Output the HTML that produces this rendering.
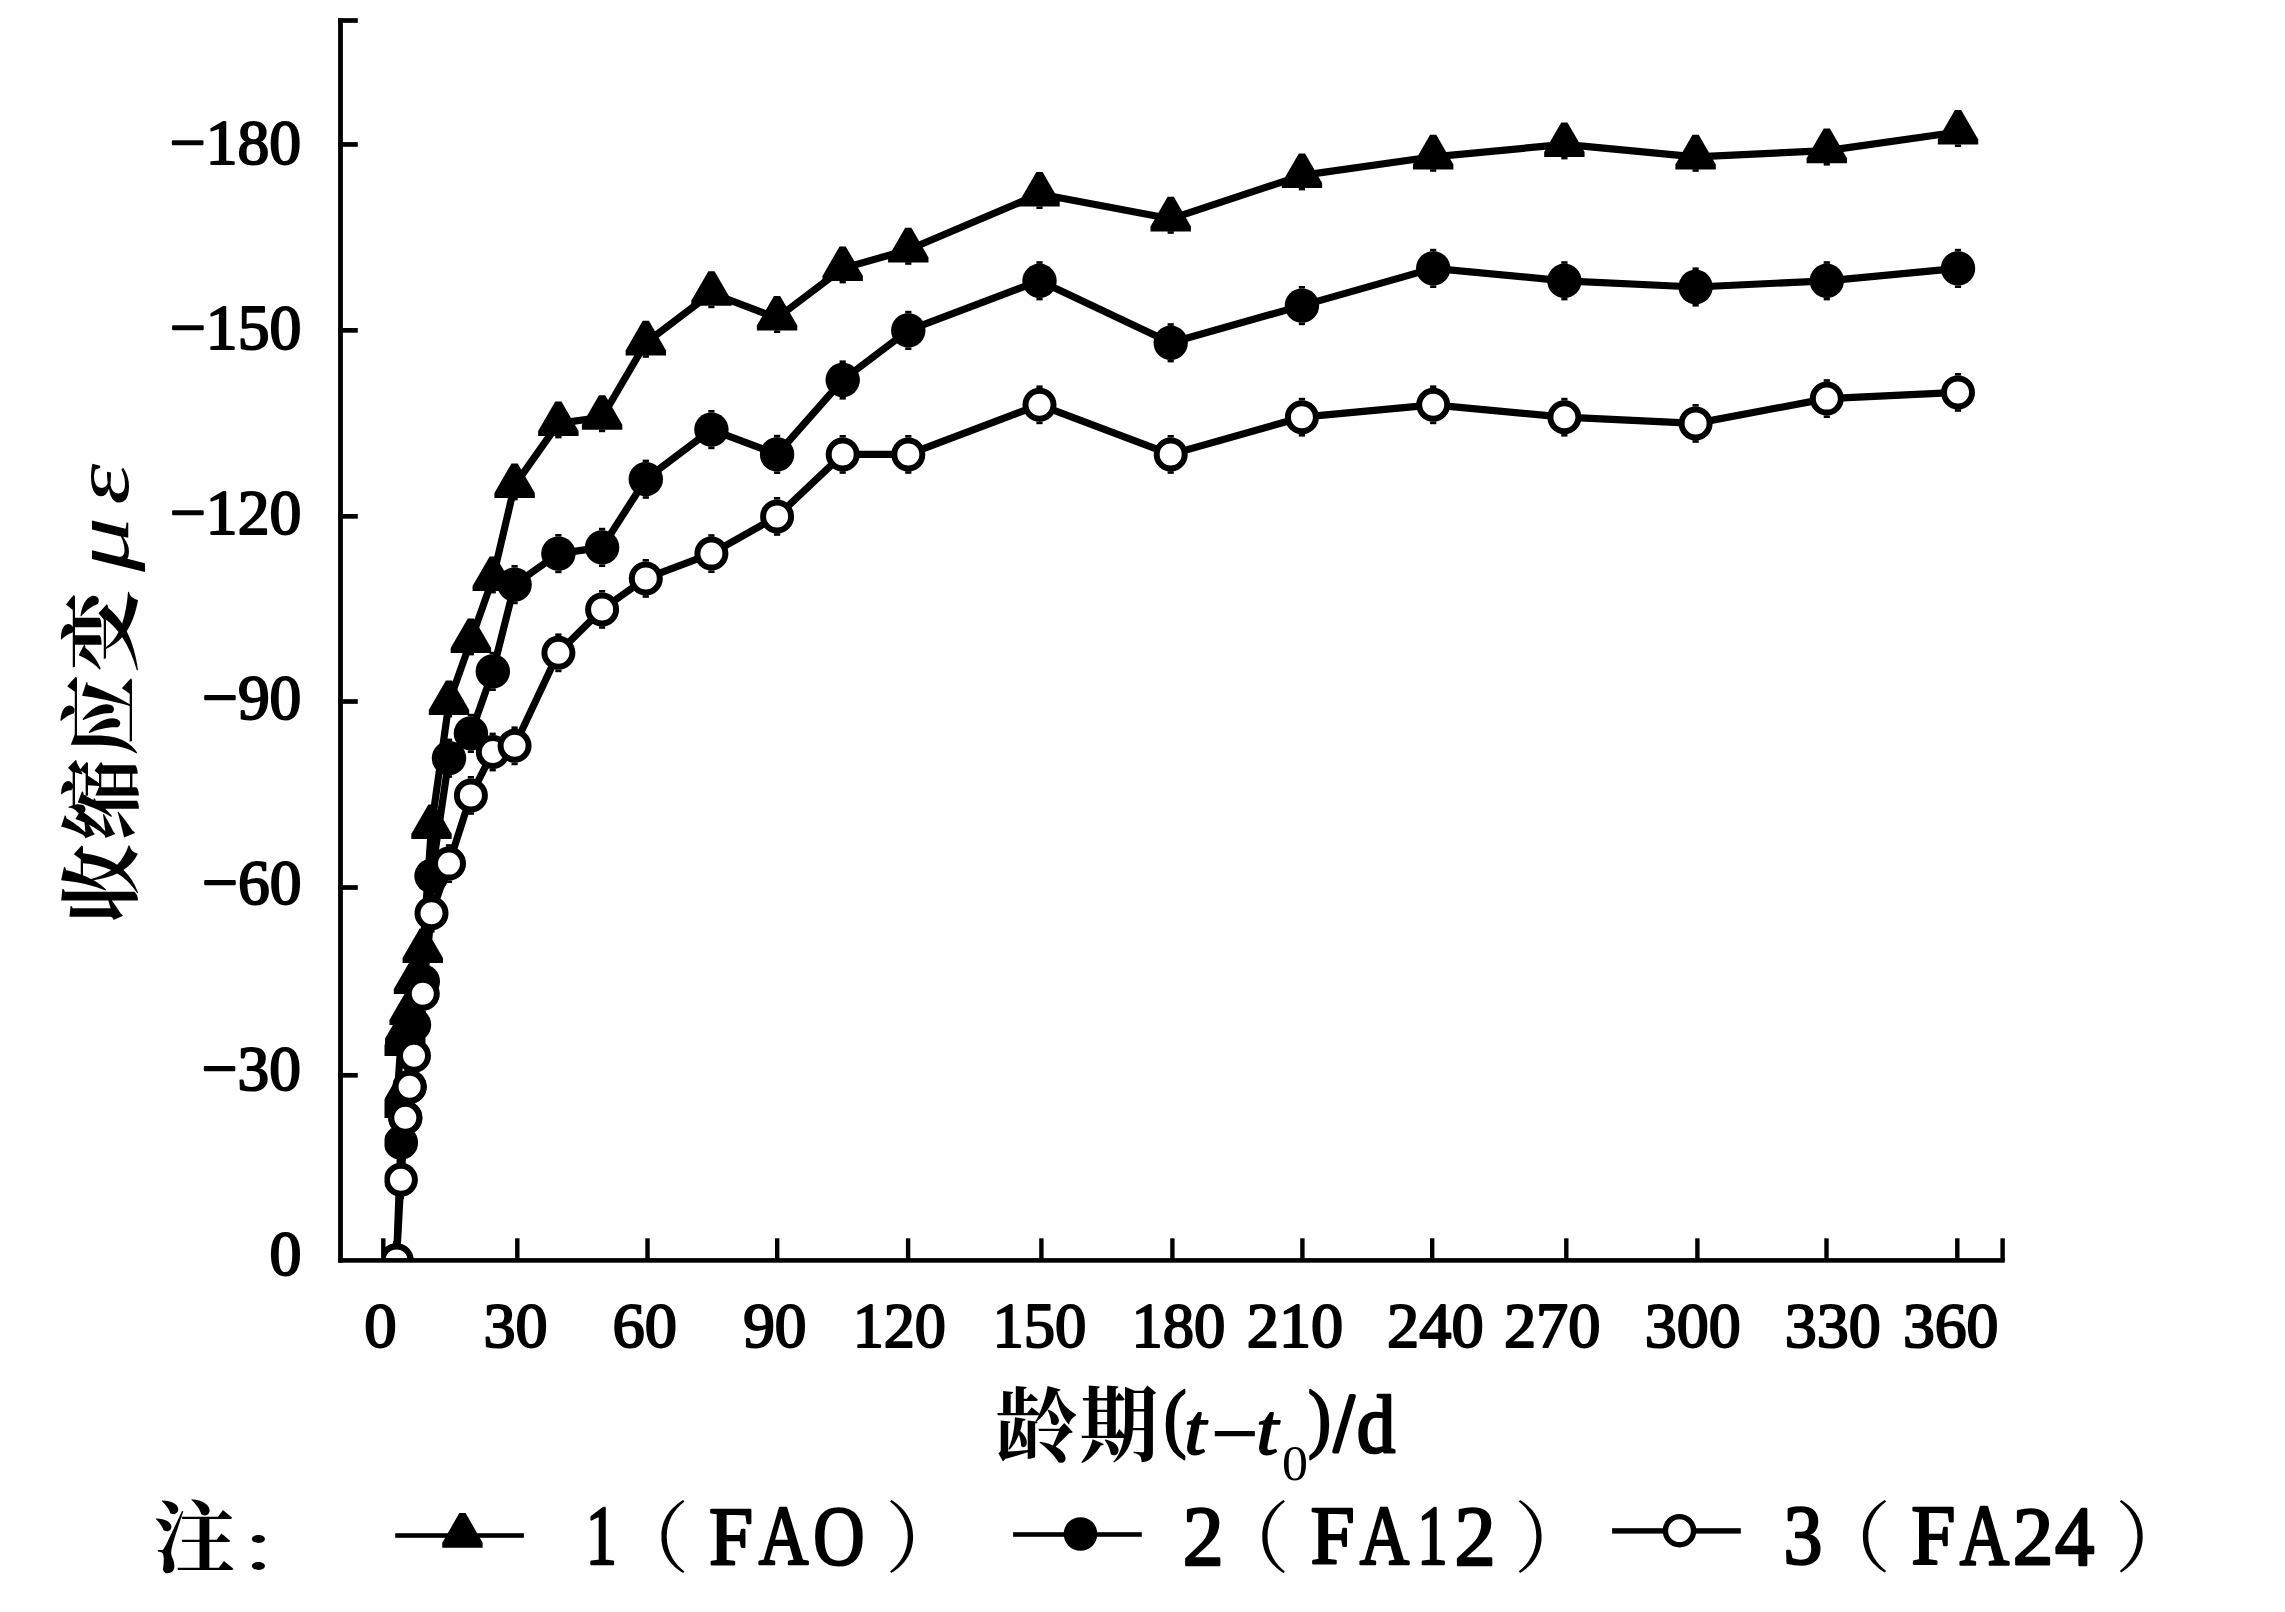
<!DOCTYPE html>
<html lang="zh"><head><meta charset="utf-8"><title>收缩应变-龄期曲线</title>
<style>html,body{margin:0;padding:0;background:#fff;overflow:hidden}svg{display:block}text{fill:#000}</style></head><body>
<svg width="2285" height="1612" viewBox="0 0 2285 1612">
<rect x="0" y="0" width="2285" height="1612" fill="#fff"/>
<defs><clipPath id="pc"><rect x="384.5" y="0" width="1700" height="1260.4"/></clipPath></defs>
<g clip-path="url(#pc)">
<polyline fill="none" stroke="#000" stroke-width="7.2" stroke-linejoin="round" points="396.5,1105.4 400.9,1043.4 405.3,1031.0 409.6,1012.4 414.0,981.4 422.8,950.4 431.5,826.4 449.0,702.4 470.9,640.4 492.8,578.4 514.6,485.4 558.4,423.4 602.1,417.2 645.8,342.8 711.4,293.2 777.1,318.0 842.7,268.4 908.3,249.8 1039.5,194.0 1170.7,218.8 1301.9,175.4 1433.2,156.8 1564.4,144.4 1695.6,156.8 1826.8,150.6 1958.0,132.0"/>
<polyline fill="none" stroke="#000" stroke-width="7.2" stroke-linejoin="round" points="396.5,1260.4 400.9,1142.6 405.3,1117.8 409.6,1086.8 414.0,1024.8 422.8,981.4 431.5,876.0 449.0,758.2 470.9,733.4 492.8,671.4 514.6,584.6 558.4,553.6 602.1,547.4 645.8,479.2 711.4,429.6 777.1,454.4 842.7,380.0 908.3,330.4 1039.5,280.8 1170.7,342.8 1301.9,305.6 1433.2,268.4 1564.4,280.8 1695.6,287.0 1826.8,280.8 1958.0,268.4"/>
<polyline fill="none" stroke="#000" stroke-width="7.2" stroke-linejoin="round" points="396.5,1260.4 400.9,1179.8 405.3,1117.8 409.6,1086.8 414.0,1055.8 422.8,993.8 431.5,913.2 449.0,863.6 470.9,795.4 492.8,752.0 514.6,745.8 558.4,652.8 602.1,609.4 645.8,578.4 711.4,553.6 777.1,516.4 842.7,454.4 908.3,454.4 1039.5,404.8 1170.7,454.4 1301.9,417.2 1433.2,404.8 1564.4,417.2 1695.6,423.4 1826.8,398.6 1958.0,392.4"/>
<polygon points="393.42,1083.40 399.62,1083.40 416.72,1113.00 416.72,1118.00 376.32,1118.00 376.32,1113.00" fill="#000"/>
<rect x="393.4" y="1117.8" width="6.2" height="2.6"/>
<polygon points="397.80,1021.40 404.00,1021.40 421.10,1051.00 421.10,1056.00 380.70,1056.00 380.70,1051.00" fill="#000"/>
<rect x="397.8" y="1055.8" width="6.2" height="2.6"/>
<polygon points="402.17,1009.00 408.37,1009.00 425.47,1038.60 425.47,1043.60 385.07,1043.60 385.07,1038.60" fill="#000"/>
<rect x="402.2" y="1043.4" width="6.2" height="2.6"/>
<polygon points="406.54,990.40 412.74,990.40 429.84,1020.00 429.84,1025.00 389.44,1025.00 389.44,1020.00" fill="#000"/>
<rect x="406.5" y="1024.8" width="6.2" height="2.6"/>
<polygon points="410.92,959.40 417.12,959.40 434.22,989.00 434.22,994.00 393.82,994.00 393.82,989.00" fill="#000"/>
<rect x="410.9" y="993.8" width="6.2" height="2.6"/>
<polygon points="419.67,928.40 425.87,928.40 442.97,958.00 442.97,963.00 402.57,963.00 402.57,958.00" fill="#000"/>
<rect x="419.7" y="962.8" width="6.2" height="2.6"/>
<polygon points="428.41,804.40 434.61,804.40 451.71,834.00 451.71,839.00 411.31,839.00 411.31,834.00" fill="#000"/>
<rect x="428.4" y="838.8" width="6.2" height="2.6"/>
<polygon points="445.91,680.40 452.11,680.40 469.21,710.00 469.21,715.00 428.81,715.00 428.81,710.00" fill="#000"/>
<rect x="445.9" y="714.8" width="6.2" height="2.6"/>
<polygon points="467.78,618.40 473.98,618.40 491.08,648.00 491.08,653.00 450.68,653.00 450.68,648.00" fill="#000"/>
<rect x="467.8" y="652.8" width="6.2" height="2.6"/>
<polygon points="489.65,556.40 495.85,556.40 512.95,586.00 512.95,591.00 472.55,591.00 472.55,586.00" fill="#000"/>
<rect x="489.6" y="590.8" width="6.2" height="2.6"/>
<polygon points="511.52,463.40 517.72,463.40 534.82,493.00 534.82,498.00 494.42,498.00 494.42,493.00" fill="#000"/>
<rect x="511.5" y="497.8" width="6.2" height="2.6"/>
<polygon points="555.26,401.40 561.46,401.40 578.56,431.00 578.56,436.00 538.16,436.00 538.16,431.00" fill="#000"/>
<rect x="555.3" y="435.8" width="6.2" height="2.6"/>
<polygon points="599.00,395.20 605.20,395.20 622.30,424.80 622.30,429.80 581.90,429.80 581.90,424.80" fill="#000"/>
<rect x="599.0" y="429.6" width="6.2" height="2.6"/>
<polygon points="642.74,320.80 648.94,320.80 666.04,350.40 666.04,355.40 625.64,355.40 625.64,350.40" fill="#000"/>
<rect x="642.7" y="355.2" width="6.2" height="2.6"/>
<polygon points="708.35,271.20 714.55,271.20 731.65,300.80 731.65,305.80 691.25,305.80 691.25,300.80" fill="#000"/>
<rect x="708.3" y="305.6" width="6.2" height="2.6"/>
<polygon points="773.96,296.00 780.16,296.00 797.26,325.60 797.26,330.60 756.86,330.60 756.86,325.60" fill="#000"/>
<rect x="774.0" y="330.4" width="6.2" height="2.6"/>
<polygon points="839.57,246.40 845.77,246.40 862.87,276.00 862.87,281.00 822.47,281.00 822.47,276.00" fill="#000"/>
<rect x="839.6" y="280.8" width="6.2" height="2.6"/>
<polygon points="905.18,227.80 911.38,227.80 928.48,257.40 928.48,262.40 888.08,262.40 888.08,257.40" fill="#000"/>
<rect x="905.2" y="262.2" width="6.2" height="2.6"/>
<polygon points="1036.40,172.00 1042.60,172.00 1059.70,201.60 1059.70,206.60 1019.30,206.60 1019.30,201.60" fill="#000"/>
<rect x="1036.4" y="206.4" width="6.2" height="2.6"/>
<polygon points="1167.62,196.80 1173.82,196.80 1190.92,226.40 1190.92,231.40 1150.52,231.40 1150.52,226.40" fill="#000"/>
<rect x="1167.6" y="231.2" width="6.2" height="2.6"/>
<polygon points="1298.84,153.40 1305.04,153.40 1322.14,183.00 1322.14,188.00 1281.74,188.00 1281.74,183.00" fill="#000"/>
<rect x="1298.8" y="187.8" width="6.2" height="2.6"/>
<polygon points="1430.06,134.80 1436.26,134.80 1453.36,164.40 1453.36,169.40 1412.96,169.40 1412.96,164.40" fill="#000"/>
<rect x="1430.1" y="169.2" width="6.2" height="2.6"/>
<polygon points="1561.28,122.40 1567.48,122.40 1584.58,152.00 1584.58,157.00 1544.18,157.00 1544.18,152.00" fill="#000"/>
<rect x="1561.3" y="156.8" width="6.2" height="2.6"/>
<polygon points="1692.50,134.80 1698.70,134.80 1715.80,164.40 1715.80,169.40 1675.40,169.40 1675.40,164.40" fill="#000"/>
<rect x="1692.5" y="169.2" width="6.2" height="2.6"/>
<polygon points="1823.72,128.60 1829.92,128.60 1847.02,158.20 1847.02,163.20 1806.62,163.20 1806.62,158.20" fill="#000"/>
<rect x="1823.7" y="163.0" width="6.2" height="2.6"/>
<polygon points="1954.94,110.00 1961.14,110.00 1978.24,139.60 1978.24,144.60 1937.84,144.60 1937.84,139.60" fill="#000"/>
<rect x="1954.9" y="144.4" width="6.2" height="2.6"/>
<circle cx="396.5" cy="1260.4" r="17.2" fill="#000"/>
<rect x="393.4" y="1240.8" width="6.2" height="2.6"/>
<rect x="393.4" y="1277.4" width="6.2" height="2.6"/>
<circle cx="400.9" cy="1142.6" r="17.2" fill="#000"/>
<rect x="397.8" y="1123.0" width="6.2" height="2.6"/>
<rect x="397.8" y="1159.6" width="6.2" height="2.6"/>
<circle cx="405.3" cy="1117.8" r="17.2" fill="#000"/>
<rect x="402.2" y="1098.2" width="6.2" height="2.6"/>
<rect x="402.2" y="1134.8" width="6.2" height="2.6"/>
<circle cx="409.6" cy="1086.8" r="17.2" fill="#000"/>
<rect x="406.5" y="1067.2" width="6.2" height="2.6"/>
<rect x="406.5" y="1103.8" width="6.2" height="2.6"/>
<circle cx="414.0" cy="1024.8" r="17.2" fill="#000"/>
<rect x="410.9" y="1005.2" width="6.2" height="2.6"/>
<rect x="410.9" y="1041.8" width="6.2" height="2.6"/>
<circle cx="422.8" cy="981.4" r="17.2" fill="#000"/>
<rect x="419.7" y="961.8" width="6.2" height="2.6"/>
<rect x="419.7" y="998.4" width="6.2" height="2.6"/>
<circle cx="431.5" cy="876.0" r="17.2" fill="#000"/>
<rect x="428.4" y="856.4" width="6.2" height="2.6"/>
<rect x="428.4" y="893.0" width="6.2" height="2.6"/>
<circle cx="449.0" cy="758.2" r="17.2" fill="#000"/>
<rect x="445.9" y="738.6" width="6.2" height="2.6"/>
<rect x="445.9" y="775.2" width="6.2" height="2.6"/>
<circle cx="470.9" cy="733.4" r="17.2" fill="#000"/>
<rect x="467.8" y="713.8" width="6.2" height="2.6"/>
<rect x="467.8" y="750.4" width="6.2" height="2.6"/>
<circle cx="492.8" cy="671.4" r="17.2" fill="#000"/>
<rect x="489.6" y="651.8" width="6.2" height="2.6"/>
<rect x="489.6" y="688.4" width="6.2" height="2.6"/>
<circle cx="514.6" cy="584.6" r="17.2" fill="#000"/>
<rect x="511.5" y="565.0" width="6.2" height="2.6"/>
<rect x="511.5" y="601.6" width="6.2" height="2.6"/>
<circle cx="558.4" cy="553.6" r="17.2" fill="#000"/>
<rect x="555.3" y="534.0" width="6.2" height="2.6"/>
<rect x="555.3" y="570.6" width="6.2" height="2.6"/>
<circle cx="602.1" cy="547.4" r="17.2" fill="#000"/>
<rect x="599.0" y="527.8" width="6.2" height="2.6"/>
<rect x="599.0" y="564.4" width="6.2" height="2.6"/>
<circle cx="645.8" cy="479.2" r="17.2" fill="#000"/>
<rect x="642.7" y="459.6" width="6.2" height="2.6"/>
<rect x="642.7" y="496.2" width="6.2" height="2.6"/>
<circle cx="711.4" cy="429.6" r="17.2" fill="#000"/>
<rect x="708.3" y="410.0" width="6.2" height="2.6"/>
<rect x="708.3" y="446.6" width="6.2" height="2.6"/>
<circle cx="777.1" cy="454.4" r="17.2" fill="#000"/>
<rect x="774.0" y="434.8" width="6.2" height="2.6"/>
<rect x="774.0" y="471.4" width="6.2" height="2.6"/>
<circle cx="842.7" cy="380.0" r="17.2" fill="#000"/>
<rect x="839.6" y="360.4" width="6.2" height="2.6"/>
<rect x="839.6" y="397.0" width="6.2" height="2.6"/>
<circle cx="908.3" cy="330.4" r="17.2" fill="#000"/>
<rect x="905.2" y="310.8" width="6.2" height="2.6"/>
<rect x="905.2" y="347.4" width="6.2" height="2.6"/>
<circle cx="1039.5" cy="280.8" r="17.2" fill="#000"/>
<rect x="1036.4" y="261.2" width="6.2" height="2.6"/>
<rect x="1036.4" y="297.8" width="6.2" height="2.6"/>
<circle cx="1170.7" cy="342.8" r="17.2" fill="#000"/>
<rect x="1167.6" y="323.2" width="6.2" height="2.6"/>
<rect x="1167.6" y="359.8" width="6.2" height="2.6"/>
<circle cx="1301.9" cy="305.6" r="17.2" fill="#000"/>
<rect x="1298.8" y="286.0" width="6.2" height="2.6"/>
<rect x="1298.8" y="322.6" width="6.2" height="2.6"/>
<circle cx="1433.2" cy="268.4" r="17.2" fill="#000"/>
<rect x="1430.1" y="248.8" width="6.2" height="2.6"/>
<rect x="1430.1" y="285.4" width="6.2" height="2.6"/>
<circle cx="1564.4" cy="280.8" r="17.2" fill="#000"/>
<rect x="1561.3" y="261.2" width="6.2" height="2.6"/>
<rect x="1561.3" y="297.8" width="6.2" height="2.6"/>
<circle cx="1695.6" cy="287.0" r="17.2" fill="#000"/>
<rect x="1692.5" y="267.4" width="6.2" height="2.6"/>
<rect x="1692.5" y="304.0" width="6.2" height="2.6"/>
<circle cx="1826.8" cy="280.8" r="17.2" fill="#000"/>
<rect x="1823.7" y="261.2" width="6.2" height="2.6"/>
<rect x="1823.7" y="297.8" width="6.2" height="2.6"/>
<circle cx="1958.0" cy="268.4" r="17.2" fill="#000"/>
<rect x="1954.9" y="248.8" width="6.2" height="2.6"/>
<rect x="1954.9" y="285.4" width="6.2" height="2.6"/>
<rect x="393.4" y="1241.0" width="6.2" height="2.6"/>
<rect x="393.4" y="1277.2" width="6.2" height="2.6"/>
<circle cx="396.5" cy="1260.4" r="14.0" fill="#fff" stroke="#000" stroke-width="6.0"/>
<rect x="397.8" y="1160.4" width="6.2" height="2.6"/>
<rect x="397.8" y="1196.6" width="6.2" height="2.6"/>
<circle cx="400.9" cy="1179.8" r="14.0" fill="#fff" stroke="#000" stroke-width="6.0"/>
<rect x="402.2" y="1098.4" width="6.2" height="2.6"/>
<rect x="402.2" y="1134.6" width="6.2" height="2.6"/>
<circle cx="405.3" cy="1117.8" r="14.0" fill="#fff" stroke="#000" stroke-width="6.0"/>
<rect x="406.5" y="1067.4" width="6.2" height="2.6"/>
<rect x="406.5" y="1103.6" width="6.2" height="2.6"/>
<circle cx="409.6" cy="1086.8" r="14.0" fill="#fff" stroke="#000" stroke-width="6.0"/>
<rect x="410.9" y="1036.4" width="6.2" height="2.6"/>
<rect x="410.9" y="1072.6" width="6.2" height="2.6"/>
<circle cx="414.0" cy="1055.8" r="14.0" fill="#fff" stroke="#000" stroke-width="6.0"/>
<rect x="419.7" y="974.4" width="6.2" height="2.6"/>
<rect x="419.7" y="1010.6" width="6.2" height="2.6"/>
<circle cx="422.8" cy="993.8" r="14.0" fill="#fff" stroke="#000" stroke-width="6.0"/>
<rect x="428.4" y="893.8" width="6.2" height="2.6"/>
<rect x="428.4" y="930.0" width="6.2" height="2.6"/>
<circle cx="431.5" cy="913.2" r="14.0" fill="#fff" stroke="#000" stroke-width="6.0"/>
<rect x="445.9" y="844.2" width="6.2" height="2.6"/>
<rect x="445.9" y="880.4" width="6.2" height="2.6"/>
<circle cx="449.0" cy="863.6" r="14.0" fill="#fff" stroke="#000" stroke-width="6.0"/>
<rect x="467.8" y="776.0" width="6.2" height="2.6"/>
<rect x="467.8" y="812.2" width="6.2" height="2.6"/>
<circle cx="470.9" cy="795.4" r="14.0" fill="#fff" stroke="#000" stroke-width="6.0"/>
<rect x="489.6" y="732.6" width="6.2" height="2.6"/>
<rect x="489.6" y="768.8" width="6.2" height="2.6"/>
<circle cx="492.8" cy="752.0" r="14.0" fill="#fff" stroke="#000" stroke-width="6.0"/>
<rect x="511.5" y="726.4" width="6.2" height="2.6"/>
<rect x="511.5" y="762.6" width="6.2" height="2.6"/>
<circle cx="514.6" cy="745.8" r="14.0" fill="#fff" stroke="#000" stroke-width="6.0"/>
<rect x="555.3" y="633.4" width="6.2" height="2.6"/>
<rect x="555.3" y="669.6" width="6.2" height="2.6"/>
<circle cx="558.4" cy="652.8" r="14.0" fill="#fff" stroke="#000" stroke-width="6.0"/>
<rect x="599.0" y="590.0" width="6.2" height="2.6"/>
<rect x="599.0" y="626.2" width="6.2" height="2.6"/>
<circle cx="602.1" cy="609.4" r="14.0" fill="#fff" stroke="#000" stroke-width="6.0"/>
<rect x="642.7" y="559.0" width="6.2" height="2.6"/>
<rect x="642.7" y="595.2" width="6.2" height="2.6"/>
<circle cx="645.8" cy="578.4" r="14.0" fill="#fff" stroke="#000" stroke-width="6.0"/>
<rect x="708.3" y="534.2" width="6.2" height="2.6"/>
<rect x="708.3" y="570.4" width="6.2" height="2.6"/>
<circle cx="711.4" cy="553.6" r="14.0" fill="#fff" stroke="#000" stroke-width="6.0"/>
<rect x="774.0" y="497.0" width="6.2" height="2.6"/>
<rect x="774.0" y="533.2" width="6.2" height="2.6"/>
<circle cx="777.1" cy="516.4" r="14.0" fill="#fff" stroke="#000" stroke-width="6.0"/>
<rect x="839.6" y="435.0" width="6.2" height="2.6"/>
<rect x="839.6" y="471.2" width="6.2" height="2.6"/>
<circle cx="842.7" cy="454.4" r="14.0" fill="#fff" stroke="#000" stroke-width="6.0"/>
<rect x="905.2" y="435.0" width="6.2" height="2.6"/>
<rect x="905.2" y="471.2" width="6.2" height="2.6"/>
<circle cx="908.3" cy="454.4" r="14.0" fill="#fff" stroke="#000" stroke-width="6.0"/>
<rect x="1036.4" y="385.4" width="6.2" height="2.6"/>
<rect x="1036.4" y="421.6" width="6.2" height="2.6"/>
<circle cx="1039.5" cy="404.8" r="14.0" fill="#fff" stroke="#000" stroke-width="6.0"/>
<rect x="1167.6" y="435.0" width="6.2" height="2.6"/>
<rect x="1167.6" y="471.2" width="6.2" height="2.6"/>
<circle cx="1170.7" cy="454.4" r="14.0" fill="#fff" stroke="#000" stroke-width="6.0"/>
<rect x="1298.8" y="397.8" width="6.2" height="2.6"/>
<rect x="1298.8" y="434.0" width="6.2" height="2.6"/>
<circle cx="1301.9" cy="417.2" r="14.0" fill="#fff" stroke="#000" stroke-width="6.0"/>
<rect x="1430.1" y="385.4" width="6.2" height="2.6"/>
<rect x="1430.1" y="421.6" width="6.2" height="2.6"/>
<circle cx="1433.2" cy="404.8" r="14.0" fill="#fff" stroke="#000" stroke-width="6.0"/>
<rect x="1561.3" y="397.8" width="6.2" height="2.6"/>
<rect x="1561.3" y="434.0" width="6.2" height="2.6"/>
<circle cx="1564.4" cy="417.2" r="14.0" fill="#fff" stroke="#000" stroke-width="6.0"/>
<rect x="1692.5" y="404.0" width="6.2" height="2.6"/>
<rect x="1692.5" y="440.2" width="6.2" height="2.6"/>
<circle cx="1695.6" cy="423.4" r="14.0" fill="#fff" stroke="#000" stroke-width="6.0"/>
<rect x="1823.7" y="379.2" width="6.2" height="2.6"/>
<rect x="1823.7" y="415.4" width="6.2" height="2.6"/>
<circle cx="1826.8" cy="398.6" r="14.0" fill="#fff" stroke="#000" stroke-width="6.0"/>
<rect x="1954.9" y="373.0" width="6.2" height="2.6"/>
<rect x="1954.9" y="409.2" width="6.2" height="2.6"/>
<circle cx="1958.0" cy="392.4" r="14.0" fill="#fff" stroke="#000" stroke-width="6.0"/>
</g>
<g fill="#000">
<rect x="338.1" y="18.2" width="4.8" height="1244.5"/>
<rect x="338.1" y="1258.1" width="1666.7" height="4.6"/>
<rect x="338.1" y="18.15" width="19.7" height="4.7"/>
<rect x="338.1" y="142.10" width="19.7" height="4.7"/>
<rect x="338.1" y="328.00" width="19.7" height="4.7"/>
<rect x="338.1" y="514.00" width="19.7" height="4.7"/>
<rect x="338.1" y="699.15" width="19.7" height="4.7"/>
<rect x="338.1" y="885.15" width="19.7" height="4.7"/>
<rect x="338.1" y="1072.95" width="19.7" height="4.7"/>
<rect x="381.10" y="1238.3" width="4.4" height="22"/>
<rect x="515.10" y="1238.3" width="4.4" height="22"/>
<rect x="645.30" y="1238.3" width="4.4" height="22"/>
<rect x="775.00" y="1238.3" width="4.4" height="22"/>
<rect x="905.90" y="1238.3" width="4.4" height="22"/>
<rect x="1039.20" y="1238.3" width="4.4" height="22"/>
<rect x="1170.20" y="1238.3" width="4.4" height="22"/>
<rect x="1300.20" y="1238.3" width="4.4" height="22"/>
<rect x="1430.00" y="1238.3" width="4.4" height="22"/>
<rect x="1564.10" y="1238.3" width="4.4" height="22"/>
<rect x="1695.20" y="1238.3" width="4.4" height="22"/>
<rect x="1824.30" y="1238.3" width="4.4" height="22"/>
<rect x="1955.10" y="1238.3" width="4.4" height="22"/>
<rect x="2000.40" y="1238.3" width="4.4" height="22"/>
</g>
<rect x="395.2" y="1533.2" width="128.7" height="4.6" fill="#000"/>
<polygon points="459.35,1513.10 465.55,1513.10 482.65,1542.70 482.65,1547.70 442.25,1547.70 442.25,1542.70" fill="#000"/>
<rect x="1013.1" y="1532.2" width="128.7" height="4.6" fill="#000"/>
<circle cx="1080.5" cy="1534" r="16.8" fill="#000"/>
<rect x="1612.1" y="1528.2" width="128.7" height="5.4" fill="#000"/>
<circle cx="1679.5" cy="1530.7" r="14.1" fill="#fff" stroke="#000" stroke-width="5.4"/>
<text transform="matrix(0.6365 0 0 0.6342 169.74 163.60)" font-family="&quot;Liberation Serif&quot;, serif" font-weight="normal" font-size="100" stroke="#000" stroke-width="3.2" stroke-linejoin="round">−180</text>
<text transform="matrix(0.6370 0 0 0.6342 169.89 348.60)" font-family="&quot;Liberation Serif&quot;, serif" font-weight="normal" font-size="100" stroke="#000" stroke-width="3.2" stroke-linejoin="round">−150</text>
<text transform="matrix(0.6370 0 0 0.6342 169.89 533.60)" font-family="&quot;Liberation Serif&quot;, serif" font-weight="normal" font-size="100" stroke="#000" stroke-width="3.2" stroke-linejoin="round">−120</text>
<text transform="matrix(0.6347 0 0 0.6386 202.10 718.59)" font-family="&quot;Liberation Serif&quot;, serif" font-weight="normal" font-size="100" stroke="#000" stroke-width="3.2" stroke-linejoin="round">−90</text>
<text transform="matrix(0.6347 0 0 0.6385 202.10 903.58)" font-family="&quot;Liberation Serif&quot;, serif" font-weight="normal" font-size="100" stroke="#000" stroke-width="3.2" stroke-linejoin="round">−60</text>
<text transform="matrix(0.6340 0 0 0.6372 201.85 1089.50)" font-family="&quot;Liberation Serif&quot;, serif" font-weight="normal" font-size="100" stroke="#000" stroke-width="3.2" stroke-linejoin="round">−30</text>
<text transform="matrix(0.6391 0 0 0.6316 269.52 1274.53)" font-family="&quot;Liberation Serif&quot;, serif" font-weight="normal" font-size="100" stroke="#000" stroke-width="3.2" stroke-linejoin="round">0</text>
<text transform="matrix(0.6478 0 0 0.6373 364.20 1346.70)" font-family="&quot;Liberation Serif&quot;, serif" font-weight="normal" font-size="100" stroke="#000" stroke-width="3.2" stroke-linejoin="round">0</text>
<text transform="matrix(0.6411 0 0 0.6373 483.43 1346.70)" font-family="&quot;Liberation Serif&quot;, serif" font-weight="normal" font-size="100" stroke="#000" stroke-width="3.2" stroke-linejoin="round">30</text>
<text transform="matrix(0.6444 0 0 0.6373 612.49 1346.70)" font-family="&quot;Liberation Serif&quot;, serif" font-weight="normal" font-size="100" stroke="#000" stroke-width="3.2" stroke-linejoin="round">60</text>
<text transform="matrix(0.6331 0 0 0.6373 743.16 1346.70)" font-family="&quot;Liberation Serif&quot;, serif" font-weight="normal" font-size="100" stroke="#000" stroke-width="3.2" stroke-linejoin="round">90</text>
<text transform="matrix(0.6220 0 0 0.6328 852.65 1346.71)" font-family="&quot;Liberation Serif&quot;, serif" font-weight="normal" font-size="100" stroke="#000" stroke-width="3.2" stroke-linejoin="round">120</text>
<text transform="matrix(0.6262 0 0 0.6328 992.42 1346.71)" font-family="&quot;Liberation Serif&quot;, serif" font-weight="normal" font-size="100" stroke="#000" stroke-width="3.2" stroke-linejoin="round">150</text>
<text transform="matrix(0.6262 0 0 0.6327 1131.42 1346.70)" font-family="&quot;Liberation Serif&quot;, serif" font-weight="normal" font-size="100" stroke="#000" stroke-width="3.2" stroke-linejoin="round">180</text>
<text transform="matrix(0.6432 0 0 0.6328 1246.81 1346.71)" font-family="&quot;Liberation Serif&quot;, serif" font-weight="normal" font-size="100" stroke="#000" stroke-width="3.2" stroke-linejoin="round">210</text>
<text transform="matrix(0.6439 0 0 0.6373 1387.04 1346.70)" font-family="&quot;Liberation Serif&quot;, serif" font-weight="normal" font-size="100" stroke="#000" stroke-width="3.2" stroke-linejoin="round">240</text>
<text transform="matrix(0.6439 0 0 0.6373 1503.90 1346.70)" font-family="&quot;Liberation Serif&quot;, serif" font-weight="normal" font-size="100" stroke="#000" stroke-width="3.2" stroke-linejoin="round">270</text>
<text transform="matrix(0.6393 0 0 0.6373 1644.78 1346.70)" font-family="&quot;Liberation Serif&quot;, serif" font-weight="normal" font-size="100" stroke="#000" stroke-width="3.2" stroke-linejoin="round">300</text>
<text transform="matrix(0.6393 0 0 0.6373 1784.73 1346.70)" font-family="&quot;Liberation Serif&quot;, serif" font-weight="normal" font-size="100" stroke="#000" stroke-width="3.2" stroke-linejoin="round">330</text>
<text transform="matrix(0.6372 0 0 0.6373 1902.89 1346.70)" font-family="&quot;Liberation Serif&quot;, serif" font-weight="normal" font-size="100" stroke="#000" stroke-width="3.2" stroke-linejoin="round">360</text>
<text transform="matrix(0.8194 0 0 0.8058 995.56 1454.85)" font-family="&quot;Liberation Serif&quot;, &quot;Noto Serif CJK SC&quot;, serif" font-weight="bold" font-size="100">龄</text>
<text transform="matrix(0.7895 0 0 0.8239 1079.42 1455.21)" font-family="&quot;Liberation Serif&quot;, &quot;Noto Serif CJK SC&quot;, serif" font-weight="bold" font-size="100">期</text>
<text transform="matrix(0.6839 0 0 0.7543 1163.82 1443.20)" font-family="&quot;Liberation Serif&quot;, serif" font-weight="normal" font-size="100" stroke="#000" stroke-width="3.0" stroke-linejoin="round">(</text>
<text transform="matrix(0.7857 0 0 0.7247 1184.24 1454.32)" font-family="&quot;Liberation Serif&quot;, serif" font-weight="normal" font-style="italic" font-size="100" stroke="#000" stroke-width="2.5" stroke-linejoin="round">t</text>
<text transform="matrix(0.8617 0 0 0.7571 1210.29 1458.84)" font-family="&quot;Liberation Serif&quot;, serif" font-weight="bold" font-size="100">−</text>
<text transform="matrix(0.7893 0 0 0.7247 1256.18 1454.31)" font-family="&quot;Liberation Serif&quot;, serif" font-weight="normal" font-style="italic" font-size="100" stroke="#000" stroke-width="2.5" stroke-linejoin="round">t</text>
<text transform="matrix(0.5196 0 0 0.5129 1282.01 1479.77)" font-family="&quot;Liberation Serif&quot;, serif" font-weight="normal" font-size="100">0</text>
<text transform="matrix(0.6943 0 0 0.7543 1308.00 1443.18)" font-family="&quot;Liberation Serif&quot;, serif" font-weight="normal" font-size="100" stroke="#000" stroke-width="3.0" stroke-linejoin="round">)</text>
<text transform="matrix(0.7229 0 0 0.8309 1334.07 1450.43)" font-family="&quot;Liberation Serif&quot;, serif" font-weight="normal" font-size="100" stroke="#000" stroke-width="5.0" stroke-linejoin="round">/</text>
<text transform="matrix(0.7711 0 0 0.8208 1356.82 1452.21)" font-family="&quot;Liberation Serif&quot;, serif" font-weight="normal" font-size="100" stroke="#000" stroke-width="3.2" stroke-linejoin="round">d</text>
<text transform="matrix(0 -0.7837 0.8051 0 129.78 922.45)" font-family="&quot;Liberation Serif&quot;, &quot;Noto Serif CJK SC&quot;, serif" font-weight="bold" font-size="100">收</text>
<text transform="matrix(0 -0.8231 0.8162 0 130.65 840.67)" font-family="&quot;Liberation Serif&quot;, &quot;Noto Serif CJK SC&quot;, serif" font-weight="bold" font-size="100">缩</text>
<text transform="matrix(0 -0.8093 0.7932 0 129.12 755.85)" font-family="&quot;Liberation Serif&quot;, &quot;Noto Serif CJK SC&quot;, serif" font-weight="bold" font-size="100">应</text>
<text transform="matrix(0 -0.8314 0.8027 0 129.94 672.82)" font-family="&quot;Liberation Serif&quot;, &quot;Noto Serif CJK SC&quot;, serif" font-weight="bold" font-size="100">变</text>
<text transform="matrix(0 -1.0977 0.7851 0 128.31 571.99)" font-family="&quot;Liberation Serif&quot;, serif" font-weight="normal" font-style="italic" font-size="100">μ</text>
<text transform="matrix(0 -1.0410 0.7854 0 128.16 504.75)" font-family="&quot;Liberation Serif&quot;, serif" font-weight="normal" font-style="italic" font-size="100">ε</text>
<text transform="matrix(0.8179 0 0 0.7822 153.25 1565.59)" font-family="&quot;Liberation Serif&quot;, &quot;Noto Serif CJK SC&quot;, serif" font-weight="bold" font-size="100">注</text>
<text transform="matrix(1.0537 0 0 0.6604 234.09 1571.58)" font-family="&quot;Liberation Serif&quot;, &quot;Noto Serif CJK SC&quot;, serif" font-weight="normal" font-size="100">：</text>
<text transform="matrix(0.6235 0 0 0.8437 585.64 1563.74)" font-family="&quot;Liberation Serif&quot;, serif" font-weight="normal" font-size="100" stroke="#000" stroke-width="3.0" stroke-linejoin="round">1</text>
<text transform="matrix(0.8054 0 0 0.7802 609.00 1565.68)" font-family="&quot;Liberation Serif&quot;, &quot;Noto Serif CJK SC&quot;, serif" font-weight="normal" font-size="100">（</text>
<text transform="matrix(0.7925 0 0 0.8322 709.11 1563.72)" font-family="&quot;Liberation Serif&quot;, serif" font-weight="normal" font-size="100" stroke="#000" stroke-width="3.0" stroke-linejoin="round">F</text>
<text transform="matrix(0.6878 0 0 0.8541 758.79 1563.90)" font-family="&quot;Liberation Serif&quot;, serif" font-weight="normal" font-size="100" stroke="#000" stroke-width="3.0" stroke-linejoin="round">A</text>
<text transform="matrix(0.7110 0 0 0.8402 813.23 1564.66)" font-family="&quot;Liberation Serif&quot;, serif" font-weight="normal" font-size="100" stroke="#000" stroke-width="3.0" stroke-linejoin="round">O</text>
<text transform="matrix(0.8054 0 0 0.7802 885.02 1565.68)" font-family="&quot;Liberation Serif&quot;, &quot;Noto Serif CJK SC&quot;, serif" font-weight="normal" font-size="100">）</text>
<text transform="matrix(0.8188 0 0 0.8406 1182.63 1564.89)" font-family="&quot;Liberation Serif&quot;, serif" font-weight="normal" font-size="100" stroke="#000" stroke-width="3.0" stroke-linejoin="round">2</text>
<text transform="matrix(0.7914 0 0 0.7791 1210.76 1565.79)" font-family="&quot;Liberation Serif&quot;, &quot;Noto Serif CJK SC&quot;, serif" font-weight="normal" font-size="100">（</text>
<text transform="matrix(0.7944 0 0 0.8308 1310.51 1563.37)" font-family="&quot;Liberation Serif&quot;, serif" font-weight="normal" font-size="100" stroke="#000" stroke-width="3.0" stroke-linejoin="round">F</text>
<text transform="matrix(0.6851 0 0 0.8483 1359.79 1563.70)" font-family="&quot;Liberation Serif&quot;, serif" font-weight="normal" font-size="100" stroke="#000" stroke-width="3.0" stroke-linejoin="round">A</text>
<text transform="matrix(0.6079 0 0 0.8365 1417.31 1563.55)" font-family="&quot;Liberation Serif&quot;, serif" font-weight="normal" font-size="100" stroke="#000" stroke-width="3.0" stroke-linejoin="round">1</text>
<text transform="matrix(0.8235 0 0 0.8406 1454.42 1564.89)" font-family="&quot;Liberation Serif&quot;, serif" font-weight="normal" font-size="100" stroke="#000" stroke-width="3.0" stroke-linejoin="round">2</text>
<text transform="matrix(0.7984 0 0 0.7791 1513.76 1565.79)" font-family="&quot;Liberation Serif&quot;, &quot;Noto Serif CJK SC&quot;, serif" font-weight="normal" font-size="100">）</text>
<text transform="matrix(0.7778 0 0 0.8564 1783.47 1564.33)" font-family="&quot;Liberation Serif&quot;, serif" font-weight="normal" font-size="100" stroke="#000" stroke-width="3.0" stroke-linejoin="round">3</text>
<text transform="matrix(0.8125 0 0 0.7738 1809.89 1566.43)" font-family="&quot;Liberation Serif&quot;, &quot;Noto Serif CJK SC&quot;, serif" font-weight="normal" font-size="100">（</text>
<text transform="matrix(0.7944 0 0 0.8439 1911.31 1564.14)" font-family="&quot;Liberation Serif&quot;, serif" font-weight="normal" font-size="100" stroke="#000" stroke-width="3.0" stroke-linejoin="round">F</text>
<text transform="matrix(0.6851 0 0 0.8571 1959.79 1564.44)" font-family="&quot;Liberation Serif&quot;, serif" font-weight="normal" font-size="100" stroke="#000" stroke-width="3.0" stroke-linejoin="round">A</text>
<text transform="matrix(0.8119 0 0 0.8348 2012.81 1563.99)" font-family="&quot;Liberation Serif&quot;, serif" font-weight="normal" font-size="100" stroke="#000" stroke-width="3.0" stroke-linejoin="round">2</text>
<text transform="matrix(0.7880 0 0 0.8410 2055.00 1564.59)" font-family="&quot;Liberation Serif&quot;, serif" font-weight="normal" font-size="100" stroke="#000" stroke-width="3.0" stroke-linejoin="round">4</text>
<text transform="matrix(0.8019 0 0 0.7738 2114.83 1566.46)" font-family="&quot;Liberation Serif&quot;, &quot;Noto Serif CJK SC&quot;, serif" font-weight="normal" font-size="100">）</text>
</svg></body></html>
